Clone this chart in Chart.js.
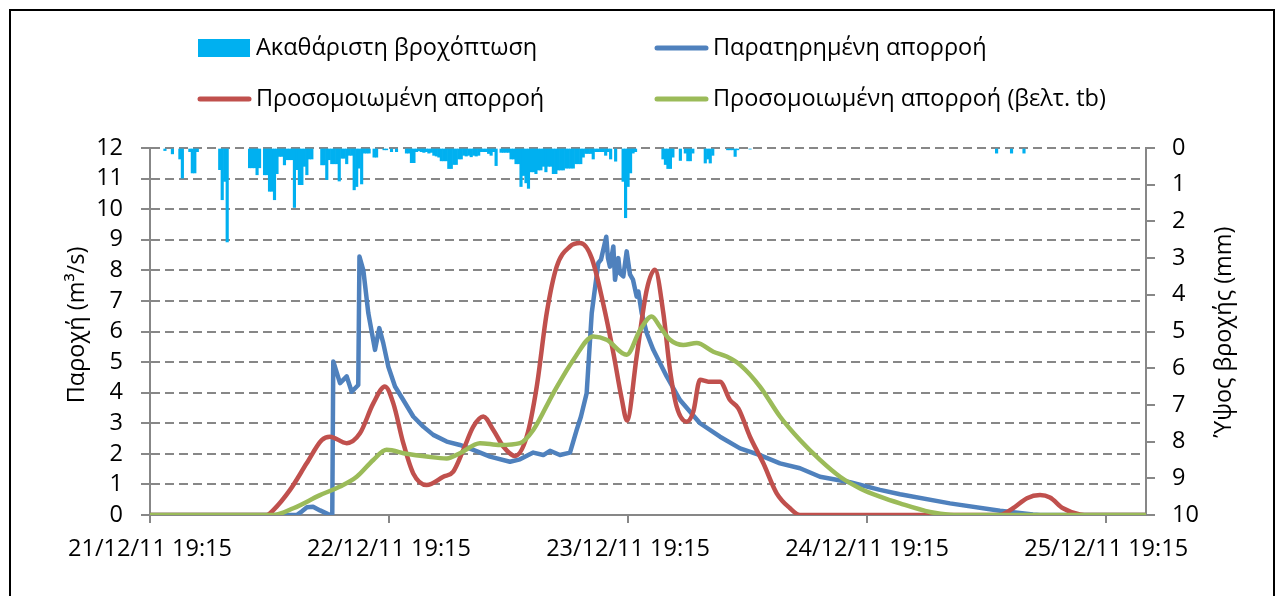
<!DOCTYPE html>
<html>
<head>
<meta charset="utf-8">
<script src="https://cdn.jsdelivr.net/npm/chart.js@4.4.1/dist/chart.umd.min.js"></script>
<style>
  html, body { margin: 0; padding: 0; background: #fff; }
  #wrap { width: 1277px; height: 596px; position: relative; }
  canvas { display: block; }
</style>
</head>
<body>
<div id="wrap"><canvas id="c" width="1277" height="596"></canvas></div>
<script>
// ---------- Data (hours since 21/12/11 19:15) ----------
const tickHours = [0, 24, 48, 72, 96];
const tickLabels = ['21/12/11 19:15', '22/12/11 19:15', '23/12/11 19:15', '24/12/11 19:15', '25/12/11 19:15'];

const seriesNames = ['Ακαθάριστη βροχόπτωση', 'Παρατηρημένη απορροή', 'Προσομοιωμένη απορροή', 'Προσομοιωμένη απορροή (βελτ. tb)'];

// Gross rainfall (mm per 15 min)
const rainHours = [1.5, 2.25, 3.0, 3.25, 4.0, 4.25, 4.5, 4.75, 7.0, 7.25, 7.5, 7.75,
  10.0, 10.25, 10.5, 10.75, 11.0, 11.5, 11.75, 12.0, 12.25, 12.5, 12.75, 13.0, 13.25, 13.5, 13.75,
  14.0, 14.25, 14.5, 14.75, 15.0, 15.25, 15.5, 15.75, 16.0, 16.25, 17.25, 17.5, 17.75, 18.0, 18.25,
  18.5, 18.75, 19.0, 19.25, 19.5, 19.75, 20.0, 20.25, 20.5, 20.75, 21.0, 21.25, 21.5, 21.75, 22.0,
  22.5, 22.75, 23.5, 23.75, 24.25, 24.75, 25.75, 26.0, 26.25, 26.5, 26.75, 27.0, 27.25, 27.5, 27.75,
  28.0, 28.25, 28.5, 28.75, 29.0, 29.25, 29.5, 29.75, 30.0, 30.25, 30.5, 30.75, 31.0, 31.25, 31.5,
  31.75, 32.0, 32.25, 32.5, 32.75, 33.0, 33.25, 33.5, 33.75, 34.0, 34.25, 34.5, 34.75, 35.25, 35.5,
  35.75, 36.0, 36.25, 36.5, 36.75, 37.0, 37.25, 37.5, 37.75, 38.0, 38.25, 38.5, 38.75, 39.0, 39.25,
  39.5, 39.75, 40.0, 40.25, 40.5, 40.75, 41.0, 41.25, 41.5, 41.75, 42.0, 42.25, 42.5, 42.75, 43.0,
  43.25, 43.5, 43.75, 44.0, 44.25, 44.5, 44.75, 45.0, 45.25, 45.5, 45.75, 46.0, 46.25, 46.75, 47.5,
  47.75, 48.0, 48.25, 48.5, 48.75, 51.5, 51.75, 52.0, 52.25, 52.5, 53.25, 53.75, 54.0, 54.25, 54.5,
  55.75, 56.0, 56.25, 56.5, 58.0, 58.25, 58.5, 58.75, 59.0, 60.25, 85.0, 86.5, 87.75];
const rainMm = [0.07, 0.16, 0.3, 0.82, 0.1, 0.68, 0.68, 0.1, 0.59, 1.41, 0.91, 2.56,
  0.54, 0.54, 0.54, 0.73, 0.54, 0.73, 0.73, 1.18, 1.18, 1.41, 0.7, 0.23, 0.23, 0.46, 0.32,
  0.32, 0.32, 1.62, 0.59, 1.0, 1.0, 0.5, 0.73, 0.3, 0.3, 0.46, 0.46, 0.86, 0.32, 0.43,
  0.43, 0.43, 0.9, 0.28, 0.28, 0.43, 0.2, 0.2, 1.14, 1.05, 0.55, 0.98, 0.14, 0.14, 0.14,
  0.25, 0.25, 0.05, 0.05, 0.1, 0.1, 0.14, 0.14, 0.4, 0.4, 0.1, 0.08, 0.1, 0.12, 0.1,
  0.14, 0.12, 0.2, 0.22, 0.25, 0.35, 0.35, 0.35, 0.56, 0.56, 0.45, 0.45, 0.3, 0.3, 0.2,
  0.22, 0.2, 0.24, 0.2, 0.22, 0.2, 0.1, 0.1, 0.1, 0.15, 0.2, 0.1, 0.48, 0.12, 0.12,
  0.12, 0.12, 0.3, 0.3, 0.43, 0.43, 1.05, 0.75, 0.95, 1.1, 0.65, 0.65, 0.7, 0.6, 0.6,
  0.5, 0.65, 0.5, 0.5, 0.7, 0.7, 0.6, 0.6, 0.6, 0.55, 0.55, 0.55, 0.55, 0.43, 0.43,
  0.43, 0.25, 0.15, 0.15, 0.15, 0.3, 0.1, 0.1, 0.1, 0.1, 0.2, 0.1, 0.3, 0.36, 0.91,
  1.9, 1.05, 0.68, 0.14, 0.1, 0.3, 0.45, 0.56, 0.56, 0.25, 0.34, 0.14, 0.35, 0.35, 0.14,
  0.41, 0.3, 0.41, 0.2, 0.05, 0.05, 0.05, 0.23, 0.05, 0.03, 0.14, 0.14, 0.14];

// Observed runoff (m3/s)
const obsHours = [0, 14.73, 15.26, 15.76, 16.37, 17.07, 17.87, 18.3, 18.4, 19.08, 19.75, 20.25, 20.91,
  21.03, 21.42, 21.92, 22.59, 23.02, 23.42, 23.93, 24.6, 25.43, 26.43, 27.44, 28.44, 29.79, 31.12,
  32.46, 34.14, 36.14, 37.15, 38.48, 39.49, 40.16, 41.16, 42.17, 42.84, 43.27, 43.84, 44.35, 45.01,
  45.28, 45.81, 45.98, 46.18, 46.52, 46.69, 47.02, 47.19, 47.52, 47.86, 48.19, 48.49, 48.86, 49.03,
  49.37, 49.87, 50.53, 51.88, 53.21, 55.22, 57.23, 59.24, 61.24, 63.25, 65.26, 67.27, 70.28, 73.29,
  75.3, 80.32, 85.34, 88.65, 89.36, 100];
const obsFlow = [0, 0, 0.12, 0.25, 0.27, 0.15, 0.03, 0, 5.02, 4.31, 4.53, 4.03, 4.25,
  8.45, 8.0, 6.6, 5.4, 6.11, 5.62, 4.85, 4.2, 3.76, 3.22, 2.89, 2.62, 2.4, 2.29,
  2.13, 1.91, 1.74, 1.82, 2.04, 1.96, 2.1, 1.96, 2.04, 2.78, 3.22, 3.98, 6.6, 8.24,
  8.35, 9.1, 8.4, 8.12, 8.78, 7.69, 8.4, 7.9, 7.8, 8.62, 7.87, 7.7, 7.14, 7.31,
  6.6, 5.95, 5.4, 4.53, 3.76, 3.0, 2.56, 2.18, 1.96, 1.69, 1.53, 1.25, 1.07, 0.82,
  0.68, 0.38, 0.14, 0.02, 0, 0];

// Simulated runoff (m3/s)
const simHours = [0, 11.72, 12.38, 14.06, 15.73, 17.24, 18.07, 19.75, 21.08, 22.42, 23.59, 24.43, 25.43,
  26.43, 27.78, 29.45, 30.45, 31.46, 32.46, 33.46, 34.47, 35.47, 36.65, 37.82, 38.83, 39.83, 40.83,
  42.17, 43.17, 44.35, 45.51, 46.52, 47.36, 47.89, 48.86, 49.87, 50.7, 51.54, 52.21, 52.88, 53.88,
  54.55, 55.22, 56.05, 57.23, 58.23, 59.07, 60.24, 61.58, 62.92, 64.26, 65.26, 85.34, 86.65, 88.05,
  89.36, 90.36, 91.67, 93.37, 94.38, 100];
const simFlow = [0, 0, 0.16, 0.82, 1.69, 2.45, 2.56, 2.35, 2.67, 3.65, 4.2, 3.65, 2.35,
  1.36, 0.98, 1.25, 1.42, 2.13, 2.89, 3.22, 2.78, 2.24, 1.93, 2.56, 4.2, 6.6, 8.12,
  8.78, 8.89, 8.4, 6.9, 5.3, 3.8, 3.09, 5.18, 7.36, 8.02, 6.6, 4.74, 3.54, 3.05,
  3.38, 4.42, 4.36, 4.36, 3.76, 3.49, 2.56, 1.69, 0.71, 0.22, 0, 0, 0.22, 0.55,
  0.65, 0.57, 0.22, 0.02, 0, 0];

// Simulated runoff, improved tb (m3/s)
const simTbHours = [0, 12.38, 14.39, 17.07, 19.08, 20.75, 22.42, 23.76, 25.77, 27.78, 29.79, 31.12, 33.13,
  35.14, 37.15, 38.48, 40.49, 42.5, 44.51, 45.85, 47.86, 49.2, 50.37, 51.2, 52.21, 53.54, 54.89,
  56.56, 57.9, 59.24, 61.24, 63.25, 65.26, 67.27, 69.28, 71.29, 73.29, 75.3, 78.31, 80.32, 82.33, 100];
const simTbFlow = [0, 0, 0.22, 0.65, 0.93, 1.25, 1.8, 2.13, 2.0, 1.91, 1.85, 2.02, 2.35,
  2.29, 2.35, 2.78, 3.98, 5.07, 5.84, 5.73, 5.24, 6.05, 6.49, 6.16, 5.73, 5.56, 5.62,
  5.34, 5.18, 4.91, 4.2, 3.22, 2.45, 1.8, 1.25, 0.87, 0.6, 0.38, 0.1, 0.01, 0, 0];

const colors = ['#00B0F0', '#4F81BD', '#C0504D', '#9BBB59'];

// ---------- Build ----------
const pts = (xs, ys) => xs.map((x, i) => ({ x: x, y: ys[i] }));
const FONT = '"Open Sans", "Noto Sans", sans-serif';
const GRID = '#878787';
const FSIZE = 23.5;

const decorPlugin = {
  id: 'decor',
  beforeDraw(chart) {
    const c = chart.ctx;
    c.save();
    c.fillStyle = '#ffffff';
    c.fillRect(0, 0, chart.width, chart.height);
    c.restore();
  },
  afterDraw(chart) {
    const c = chart.ctx;
    c.save();
    // outer frame
    c.strokeStyle = '#000';
    c.lineWidth = 2;
    c.strokeRect(10, 10, 1264, 620);
    // legend
    const pos = [[198, 48], [655, 48], [198, 99], [655, 99]];
    c.font = FSIZE + 'px ' + FONT;
    c.textBaseline = 'middle';
    c.textAlign = 'left';
    chart.data.datasets.forEach((ds, i) => {
      const [lx, ly] = pos[i];
      if (i === 0) {
        c.fillStyle = ds.backgroundColor;
        c.fillRect(lx, ly - 9, 52, 18);
      } else {
        c.strokeStyle = ds.borderColor;
        c.lineWidth = 5;
        c.lineCap = 'round';
        c.beginPath();
        c.moveTo(lx + 2, ly);
        c.lineTo(lx + 51, ly);
        c.stroke();
      }
      c.fillStyle = '#000';
      c.fillText(ds.label, lx + 58, ly);
    });
    // axis titles
    c.fillStyle = '#000';
    c.textAlign = 'center';
    c.save();
    c.translate(77, 325);
    c.rotate(-Math.PI / 2);
    c.fillText('Παροχή (m³/s)', 0, 0);
    c.restore();
    c.save();
    c.translate(1224, 332);
    c.rotate(-Math.PI / 2);
    c.fillText('Ύψος βροχής (mm)', 0, 0);
    c.restore();
    c.restore();
  }
};

const tickFont = { family: FONT, size: FSIZE };

new Chart(document.getElementById('c'), {
  type: 'bar',
  data: {
    datasets: [
      { type: 'bar', label: seriesNames[0], data: pts(rainHours, rainMm), yAxisID: 'yRain',
        backgroundColor: colors[0], borderWidth: 0, barPercentage: 1, categoryPercentage: 1, order: 3 },
      { type: 'line', label: seriesNames[1], data: pts(obsHours, obsFlow), yAxisID: 'y',
        borderColor: colors[1], borderWidth: 4.5, pointRadius: 0, tension: 0, fill: false, order: 2,
        borderJoinStyle: 'round', borderCapStyle: 'round' },
      { type: 'line', label: seriesNames[2], data: pts(simHours, simFlow), yAxisID: 'y',
        borderColor: colors[2], borderWidth: 4.5, pointRadius: 0, cubicInterpolationMode: 'monotone', fill: false, order: 1,
        borderJoinStyle: 'round', borderCapStyle: 'round' },
      { type: 'line', label: seriesNames[3], data: pts(simTbHours, simTbFlow), yAxisID: 'y',
        borderColor: colors[3], borderWidth: 4.5, pointRadius: 0, cubicInterpolationMode: 'monotone', fill: false, order: 0,
        borderJoinStyle: 'round', borderCapStyle: 'round' }
    ]
  },
  options: {
    responsive: false,
    animation: false,
    events: [],
    layout: { padding: { top: 148, left: 0, right: 0, bottom: 0 } },
    plugins: { legend: { display: false }, tooltip: { enabled: false }, title: { display: false } },
    scales: {
      x: {
        type: 'linear', position: 'bottom', min: 0, max: 100, offset: false,
        afterBuildTicks: (s) => { s.ticks = tickHours.map(v => ({ value: v })); },
        afterFit: (s) => { s.height = 81; },
        ticks: {
          autoSkip: false, maxRotation: 0, minRotation: 0, padding: 12, color: '#000', font: tickFont,
          callback: (v) => { const i = tickHours.indexOf(v); return i >= 0 ? tickLabels[i] : ''; }
        },
        grid: { offset: false, drawOnChartArea: false, drawTicks: true, tickLength: 8, color: GRID, lineWidth: 2, tickBorderDash: [] },
        border: { display: true, color: GRID, width: 2 }
      },
      y: {
        type: 'linear', position: 'left', min: 0, max: 12,
        afterFit: (s) => { s.width = 150; },
        ticks: { stepSize: 1, autoSkip: false, padding: 18, color: '#000', font: tickFont },
        grid: { drawOnChartArea: true, drawTicks: true, tickLength: 9, color: GRID, lineWidth: 2, tickBorderDash: [] },
        border: { display: true, color: GRID, width: 2, dash: [9, 5] }
      },
      yRain: {
        type: 'linear', position: 'right', min: 0, max: 10, reverse: true,
        afterFit: (s) => { s.width = 131; },
        ticks: { stepSize: 1, autoSkip: false, padding: 17, color: '#000', font: tickFont },
        grid: { drawOnChartArea: false, drawTicks: true, tickLength: 9, color: GRID, lineWidth: 2, tickBorderDash: [] },
        border: { display: true, color: GRID, width: 2 }
      }
    }
  },
  plugins: [decorPlugin]
});
</script>
</body>
</html>
